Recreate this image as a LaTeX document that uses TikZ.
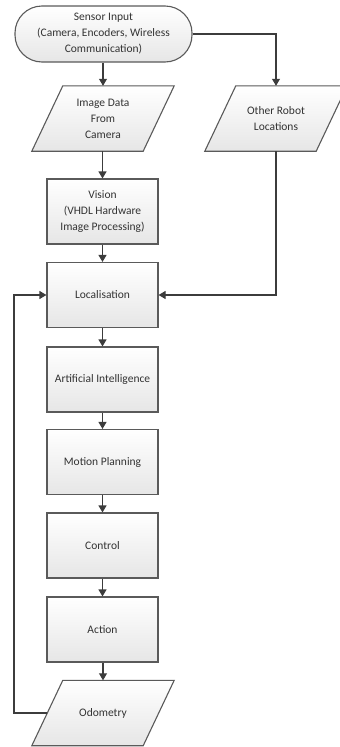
\documentclass[tikz,border=0pt]{standalone}
\usepackage{fontspec}
\setmainfont{Carlito}
\usetikzlibrary{arrows.meta,backgrounds}
\definecolor{bordc}{HTML}{5A5A5A}
\definecolor{arrc}{HTML}{3C3C3C}
\definecolor{txtc}{HTML}{333333}
\definecolor{fillb}{HTML}{E6E6E6}
\tikzset{
  shadefill/.style={draw=bordc, line width=1.1pt, top color=white, bottom color=fillb},
  base/.style={text=txtc, align=center, inner sep=2pt,
    font=\fontsize{11.5}{16}\selectfont},
  procbox/.style={base, shadefill, rectangle, minimum width=111pt, minimum height=65pt},
  iobox/.style={base, rectangle, minimum width=111pt, minimum height=65pt},
  termbox/.style={base, shadefill, rectangle, rounded corners=27pt, minimum width=177pt, minimum height=56pt},
  conn/.style={draw=arrc, line width=1.1pt, -{Triangle[length=7pt,width=8pt]}},
}
\newcommand{\paraShape}[1]{%
  \path[shadefill, line join=miter] ([xshift=-15.5pt]#1.south west) -- ([xshift=-15.5pt]#1.south east)
    -- ([xshift=15.5pt]#1.north east) -- ([xshift=15.5pt]#1.north west) -- cycle;}
\begin{document}
\begin{tikzpicture}[x=1pt,y=-1pt]
\useasboundingbox (0,0) rectangle (340,747);
\node[termbox] (sensor) at (103.5,34) {Sensor Input\\(Camera, Encoders, Wireless\\Communication)};
\node[iobox] (img) at (103,118.5) {Image Data\\From\\Camera};
\node[iobox] (other) at (276,118.5) {Other Robot\\Locations};
\node[procbox] (vision) at (102.5,211.5) {Vision\\(VHDL Hardware\\Image Processing)};
\node[procbox] (loc) at (102.5,295) {Localisation};
\node[procbox] (ai) at (102.5,379.5) {Artificial Intelligence};
\node[procbox] (motion) at (102.5,462) {Motion Planning};
\node[procbox] (control) at (102.5,545.5) {Control};
\node[procbox] (action) at (102.5,629.5) {Action};
\node[iobox] (odo) at (103,713) {Odometry};
\begin{scope}[on background layer]
\paraShape{img}
\paraShape{other}
\paraShape{odo}
\end{scope}
\coordinate (fb) at (14,295);
\draw[conn] (sensor.south -| img.north) -- (img.north);
\draw[conn] (sensor.east) -| (other.north);
\draw[conn] (img.south -| vision.north) -- (vision.north);
\draw[conn] (vision.south) -- (loc.north);
\draw[conn] (other.south) |- (loc.east);
\draw[conn] (loc.south) -- (ai.north);
\draw[conn] (ai.south) -- (motion.north);
\draw[conn] (motion.south) -- (control.north);
\draw[conn] (control.south) -- (action.north);
\draw[conn] (action.south -| odo.north) -- (odo.north);
\draw[conn] (odo.west) -| (fb) -- (loc.west);
\end{tikzpicture}
\end{document}
